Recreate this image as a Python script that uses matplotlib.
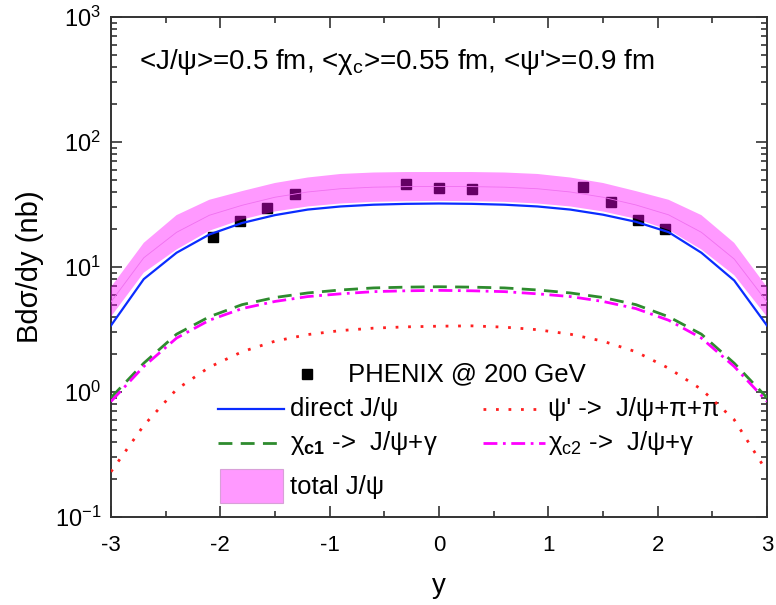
#!/usr/bin/env python3
"""
Rapidity distribution of J/psi (direct + feed-down) compared to PHENIX data.
"""

import numpy as np
import matplotlib.pyplot as plt
from matplotlib.patches import Rectangle
from matplotlib.ticker import FixedLocator, FixedFormatter, MultipleLocator, LogLocator, NullFormatter

plt.rcParams['font.family'] = ['Liberation Sans', 'DejaVu Sans']
plt.rcParams['mathtext.fontset'] = 'custom'
plt.rcParams['mathtext.rm'] = 'Liberation Sans'
plt.rcParams['mathtext.it'] = 'Liberation Sans:italic'
plt.rcParams['mathtext.bf'] = 'Liberation Sans:bold'
plt.rcParams['axes.unicode_minus'] = False

# ------------------------------------------------------------
# Data
# ------------------------------------------------------------
y_grid = [-3.0, -2.7, -2.4, -2.1, -1.8, -1.5, -1.2, -0.9, -0.6, -0.3, 0.0,
          0.3, 0.6, 0.9, 1.2, 1.5, 1.8, 2.1, 2.4, 2.7, 3.0]

direct_jpsi = [3.4, 8.0, 13.0, 18.2, 22.5, 26.0, 28.8, 30.5, 31.5, 32.0, 32.2,
               32.0, 31.5, 30.5, 28.8, 26.2, 23.0, 19.0, 13.0, 7.8, 3.4]
chi_c1 = [0.9, 1.7, 2.9, 4.0, 5.0, 5.7, 6.2, 6.55, 6.8, 6.9, 6.95,
          6.9, 6.8, 6.55, 6.2, 5.7, 5.0, 4.0, 2.9, 1.7, 0.9]
chi_c2 = [0.84, 1.6, 2.7, 3.75, 4.65, 5.3, 5.8, 6.1, 6.35, 6.45, 6.5,
          6.45, 6.35, 6.1, 5.8, 5.3, 4.65, 3.75, 2.7, 1.6, 0.84]
psi_prime = [0.23, 0.54, 1.05, 1.58, 2.1, 2.55, 2.88, 3.1, 3.24, 3.32, 3.36,
             3.38, 3.3, 3.15, 2.9, 2.55, 2.1, 1.55, 1.05, 0.6, 0.23]
total_lo = [4.0, 9.0, 13.8, 19.5, 24.0, 27.8, 30.5, 32.2, 33.2, 33.6, 33.8,
            33.6, 33.2, 32.2, 30.5, 27.8, 24.3, 19.8, 13.8, 8.6, 4.0]
total_hi = [6.9, 15.6, 26.0, 34.5, 40.5, 47.0, 52.0, 55.5, 57.0, 57.5, 57.5,
            57.5, 57.0, 55.5, 52.0, 47.0, 40.5, 34.5, 26.0, 15.6, 6.9]

phenix_y = [-2.07, -1.82, -1.57, -1.32, -0.30, 0.0, 0.30, 1.32, 1.57, 1.82, 2.07]
phenix_val = [17.5, 23.5, 29.5, 38.5, 46.0, 42.5, 42.0, 44.0, 33.0, 23.8, 20.0]

# ------------------------------------------------------------
# Figure
# ------------------------------------------------------------
fig = plt.figure(figsize=(7.76, 6.05), dpi=100)
ax = fig.add_axes([0.1430, 0.1455, 0.8454, 0.8264])

ax.plot(phenix_y, phenix_val, 's', color='black', markersize=7, zorder=2)
ax.fill_between(y_grid, total_lo, total_hi, facecolor=(1, 0, 1, 0.4),
                edgecolor='none', zorder=3)
ax.plot(y_grid, np.sqrt(np.array(total_lo) * np.array(total_hi)),
        color='#f070f0', lw=0.6, zorder=3)

ax.plot(y_grid, direct_jpsi, '-', color='#0a2cff', lw=1.6, zorder=4)
ax.plot(y_grid, psi_prime, color='#ff2020', lw=2.0, linestyle=(0, (1, 3.5)), zorder=4)
ax.plot(y_grid, chi_c1, color='#2e8b2e', lw=2.0, linestyle=(0, (5, 3)), zorder=4)
ax.plot(y_grid, chi_c2, color='#ff00ff', lw=2.0, linestyle=(0, (5, 2, 1, 2)), zorder=4)

ax.set_yscale('log')
ax.set_xlim(-3, 3)
ax.set_ylim(0.1, 1000)

ax.xaxis.set_major_locator(MultipleLocator(1))
ax.xaxis.set_minor_locator(MultipleLocator(0.5))
ax.yaxis.set_major_locator(FixedLocator([0.1, 1, 10, 100, 1000]))
ax.yaxis.set_major_formatter(FixedFormatter([r'$\mathregular{10^{-1}}$', r'$\mathregular{10^{0}}$',
                                             r'$\mathregular{10^{1}}$', r'$\mathregular{10^{2}}$',
                                             r'$\mathregular{10^{3}}$']))
ax.yaxis.set_minor_locator(LogLocator(base=10, subs=np.arange(2, 10), numticks=20))
ax.yaxis.set_minor_formatter(NullFormatter())

ax.tick_params(which='both', direction='in', top=True, right=True, width=1.2, color='#333333')
ax.tick_params(which='major', length=8)
ax.tick_params(which='minor', length=4)
ax.tick_params(axis='x', labelsize=16, pad=13)
ax.tick_params(axis='y', labelsize=17, pad=7)
for s in ax.spines.values():
    s.set_linewidth(1.4)
    s.set_color('#333333')

ax.set_xlabel('y', fontsize=20, labelpad=12)
ax.set_ylabel('Bd\u03c3/dy (nb)', fontsize=21, labelpad=8)

# header text
ax.text(0.043, 0.91, "<J/\u03c8>=0.5 fm, <\u03c7$_\\mathregular{c}$>=0.55 fm, <\u03c8'>=0.9 fm",
        transform=ax.transAxes, fontsize=20, ha='left', va='center')

# ------------------------------------------------------------
# Legend drawn by hand (axes fraction positions)
# ------------------------------------------------------------
def fx(px):
    return (px - 111) / 656.0

def fy(py):
    return (517 - py) / 500.0

T = ax.transAxes
FS = 18.5
ax.plot([fx(307)], [fy(374)], 's', color='black', markersize=7, transform=T)
ax.text(fx(348), fy(374), 'PHENIX @ 200 GeV', transform=T, fontsize=FS, va='center')

ax.plot([fx(218), fx(284)], [fy(409)] * 2, color='#0a2cff', lw=1.6, transform=T)
ax.text(fx(290), fy(409), 'direct J/\u03c8', transform=T, fontsize=FS, va='center')

ax.plot([fx(483), fx(545)], [fy(409)] * 2, color='#ff2020', lw=2.0,
        linestyle=(0, (1, 3.5)), transform=T)
ax.text(fx(548), fy(409), "\u03c8' ->  J/\u03c8+\u03c0+\u03c0", transform=T, fontsize=FS, va='center')

ax.plot([fx(218), fx(284)], [fy(443)] * 2, color='#2e8b2e', lw=2.0,
        linestyle=(0, (5, 3)), transform=T)
ax.text(fx(290), fy(443), '\u03c7$_\\mathbf{c1}$ ->  J/\u03c8+\u03b3', transform=T, fontsize=FS, va='center')

ax.plot([fx(483), fx(545)], [fy(443)] * 2, color='#ff00ff', lw=2.0,
        linestyle=(0, (5, 2, 1, 2)), transform=T)
ax.text(fx(548), fy(443), '\u03c7$_\\mathregular{c2}$ ->  J/\u03c8+\u03b3', transform=T, fontsize=FS, va='center')

ax.add_patch(Rectangle((fx(220), fy(503)), fx(283) - fx(220), fy(469) - fy(503),
                       transform=T, facecolor=(1, 0, 1, 0.4), edgecolor='#d8a0d8', lw=0.8))
ax.text(fx(290), fy(487), 'total J/\u03c8', transform=T, fontsize=FS, va='center')

fig.savefig('out.png', dpi=100)
